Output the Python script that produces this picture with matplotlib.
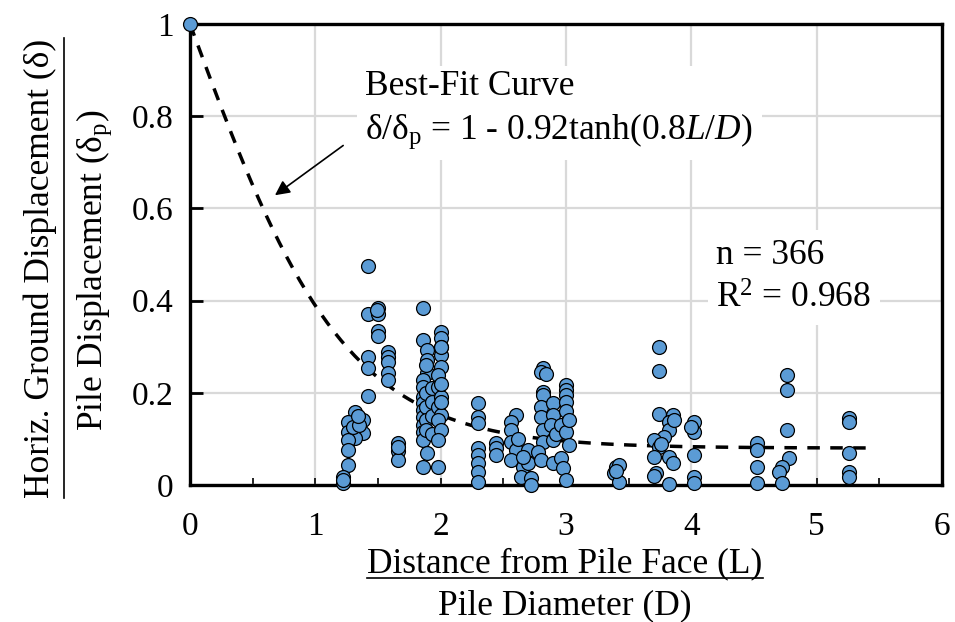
import numpy as np
import matplotlib.pyplot as plt
from matplotlib.lines import Line2D

plt.rcParams['font.family'] = ['Liberation Serif', 'DejaVu Serif']
plt.rcParams['mathtext.fontset'] = 'custom'
plt.rcParams['mathtext.rm'] = 'Liberation Serif'
plt.rcParams['mathtext.it'] = 'Liberation Serif:italic'

# measured points (L/D, delta/delta_p), read column by column
x_pts = [0.0,
         1.32, 1.26, 1.38, 1.26, 1.38, 1.32, 1.26, 1.30, 1.35, 1.34, 1.26, 1.26, 1.22, 1.22, 1.22,
         1.42, 1.42, 1.42, 1.42, 1.42,
         1.50, 1.50, 1.50, 1.50, 1.49,
         1.58, 1.58, 1.58, 1.58, 1.58,
         1.66, 1.66, 1.66, 1.66,
         1.86, 1.86, 1.89, 1.89, 1.89, 1.86, 1.86, 1.86, 1.86, 1.86, 1.86, 1.86, 1.86, 1.86, 1.89, 1.86,
         1.88, 1.88, 1.88, 1.88, 1.88, 1.93, 1.93, 1.93, 1.93,
         2.00, 2.00, 2.00, 2.00, 2.00, 1.98, 1.98, 2.00, 1.98, 2.00, 1.98, 2.00, 1.98, 1.98, 2.00, 2.00, 2.00,
         2.30, 2.30, 2.30, 2.30, 2.30, 2.30, 2.30, 2.30,
         2.44, 2.44, 2.44,
         2.60, 2.56, 2.56, 2.56, 2.60, 2.56, 2.66, 2.64, 2.70, 2.70, 2.72, 2.72, 2.62, 2.66,
         2.82, 2.80, 2.82, 2.82, 2.80, 2.80, 2.82, 2.82, 2.78, 2.80, 2.84,
         2.90, 2.90, 2.90, 2.90, 2.88, 2.92,
         3.00, 3.00, 3.00, 3.00, 2.96, 3.00, 3.02, 2.96, 2.98, 3.00, 3.00, 3.02,
         3.40, 3.42, 3.38, 3.42, 3.40,
         3.74, 3.74, 3.74, 3.85, 3.82, 3.82, 3.78, 3.70, 3.74, 3.70, 3.82, 3.85, 3.72, 3.82, 3.86, 3.76, 3.70,
         4.02, 4.02, 4.02, 4.02, 4.02, 4.00,
         4.52, 4.52, 4.52, 4.52,
         4.76, 4.76, 4.76, 4.78, 4.72, 4.70, 4.72,
         5.26, 5.26, 5.26, 5.26, 5.26]
y_pts = [1.0,
         0.158, 0.137, 0.141, 0.115, 0.113, 0.102, 0.098, 0.125, 0.130, 0.150, 0.076, 0.043, 0.017, 0.004, 0.010,
         0.475, 0.371, 0.278, 0.254, 0.193,
         0.384, 0.371, 0.334, 0.323, 0.380,
         0.288, 0.278, 0.267, 0.243, 0.228,
         0.091, 0.074, 0.054, 0.083,
         0.384, 0.315, 0.293, 0.271, 0.243, 0.228, 0.213, 0.191, 0.178, 0.163, 0.148, 0.130, 0.115, 0.098, 0.069, 0.039,
         0.200, 0.170, 0.140, 0.120, 0.260, 0.210, 0.180, 0.150, 0.110,
         0.332, 0.319, 0.299, 0.282, 0.256, 0.239, 0.213, 0.191, 0.169, 0.152, 0.141, 0.119, 0.098, 0.039, 0.300, 0.220, 0.180,
         0.178, 0.148, 0.134, 0.080, 0.065, 0.048, 0.028, 0.006,
         0.091, 0.080, 0.065,
         0.152, 0.137, 0.119, 0.093, 0.076, 0.054, 0.039, 0.017, 0.076, 0.048, 0.015, 0.000, 0.100, 0.060,
         0.254, 0.245, 0.202, 0.195, 0.169, 0.148, 0.119, 0.093, 0.072, 0.054, 0.240,
         0.178, 0.152, 0.098, 0.048, 0.130, 0.110,
         0.217, 0.206, 0.195, 0.180, 0.130, 0.115, 0.087, 0.058, 0.037, 0.011, 0.160, 0.140,
         0.039, 0.043, 0.026, 0.006, 0.030,
         0.299, 0.247, 0.154, 0.152, 0.137, 0.119, 0.104, 0.098, 0.082, 0.061, 0.061, 0.048, 0.026, 0.002, 0.140, 0.090, 0.020,
         0.137, 0.115, 0.065, 0.017, 0.004, 0.125,
         0.091, 0.076, 0.039, 0.004,
         0.239, 0.206, 0.119, 0.058, 0.039, 0.028, 0.004,
         0.145, 0.137, 0.069, 0.028, 0.017]

# best-fit curve: d/dp = 1 - a*tanh(b*L/D)
fit_a = 0.92
fit_b = 0.8
fit_xmax = 5.45

fig = plt.figure(figsize=(9.55, 6.22), dpi=100)
W, H = 955, 622
ax = fig.add_axes([190 / W, 1 - 485 / H, (942 - 190) / W, (485 - 24) / H])

xc = np.linspace(0, fit_xmax, 200)
yc = 1 - fit_a * np.tanh(fit_b * xc)
ax.plot(xc, yc, color='black', lw=2.5, ls=(0, (3.6, 3)), zorder=3)

ax.scatter(x_pts, y_pts, s=100, facecolor='#5B9BD5', edgecolor='black', linewidth=0.9, zorder=4, clip_on=False)

ax.set_xlim(0, 6)
ax.set_ylim(0, 1)
ax.set_xticks(range(7))
ax.set_xticks(np.arange(0.5, 6, 1), minor=True)
ax.set_yticks([0, 0.2, 0.4, 0.6, 0.8, 1])
ax.set_yticklabels(['0', '0.2', '0.4', '0.6', '0.8', '1'])
ax.tick_params(axis='x', which='both', direction='in', length=5, width=1.2, pad=19, labelsize=24)
ax.tick_params(axis='y', direction='in', length=9, width=2, pad=12, labelsize=24)
ax.grid(True, color='#d9d9d9', lw=1.6, zorder=0)
ax.set_axisbelow(True)
for s in ax.spines.values():
    s.set_linewidth(2.4)

ax.text(1.4, 0.812, 'Best-Fit Curve\nδ/δ$_\\mathrm{p}$ = 1 - 0.92tanh(0.8$\\it{L/D}$)', fontsize=25.5,
        ha='left', va='center', linespacing=1.3,
        bbox=dict(facecolor='white', edgecolor='none', pad=6), zorder=2)
ax.text(4.2, 0.45, 'n = 366\nR$^2$ = 0.968', fontsize=25.5, ha='left', va='center', linespacing=1.45,
        bbox=dict(facecolor='white', edgecolor='none', pad=6), zorder=2)
ax.annotate('', xy=(0.66, 0.625), xytext=(1.24, 0.74),
            arrowprops=dict(arrowstyle='-|>', color='black', lw=1.2, mutation_scale=22))

# two-line "fraction" axis titles
xl1 = fig.text(565 / W, 1 - 572 / H, 'Distance from Pile Face (L)', fontsize=25.5, ha='center', va='baseline')
fig.text(565 / W, 1 - 614 / H, 'Pile Diameter (D)', fontsize=25.5, ha='center', va='baseline')
yl1 = fig.text(40 / W, 1 - 268 / H, 'Horiz. Ground Displacement (δ)', fontsize=25.5, ha='center', va='center',
               rotation=90)
fig.text(94 / W, 1 - 270 / H, 'Pile Displacement (δ$_\\mathrm{p}$)', fontsize=25.5, ha='center', va='center',
         rotation=90)

r = fig.canvas.get_renderer()
bb = xl1.get_window_extent(r).transformed(fig.transFigure.inverted())
fig.add_artist(Line2D([bb.x0, bb.x1], [1 - 578 / H] * 2, color='black', lw=1.2))
bb = yl1.get_window_extent(r).transformed(fig.transFigure.inverted())
fig.add_artist(Line2D([64 / W] * 2, [bb.y0, bb.y1], color='black', lw=1.2))

fig.savefig('out.png', dpi=100)
